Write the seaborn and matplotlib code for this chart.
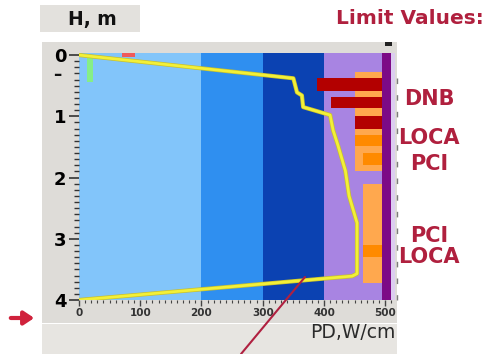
import matplotlib
matplotlib.use("Agg")
import matplotlib.pyplot as plt
import matplotlib.patheffects as pe
from matplotlib.patches import Rectangle, FancyArrowPatch
from matplotlib.lines import Line2D
import numpy as np
import pandas as pd
import seaborn as sns

# ---------------- data ----------------
band_edges = [0, 200, 300, 400, 495, 510]
band_colors = ["#82c5fa", "#2f8ff0", "#0b42b2", "#a884e2", "#7c0a86"]

profile_pd = [0, 350, 356, 364, 366, 410, 415, 423, 435, 441, 454, 454, 446, 0]
profile_h = [0.0, 0.38, 0.61, 0.66, 0.85, 0.98, 1.23, 1.48, 1.89, 2.30, 2.74, 3.57, 3.61, 4.0]

# DNB limit bars (dark red): left, right, top, bottom
dnb_left = [389, 411, 451]
dnb_right = [495, 495, 495]
dnb_top = [0.38, 0.69, 1.00]
dnb_bottom = [0.59, 0.87, 1.20]

# LOCA/PCI blocks (light orange)
lo_left = [451, 463]
lo_right = [495, 495]
lo_top = [0.28, 2.10]
lo_bottom = [1.89, 3.72]

# darker orange segments
do_left = [451, 463, 463]
do_right = [495, 495, 495]
do_top = [1.30, 1.60, 3.10]
do_bottom = [1.48, 1.80, 3.30]

y_ticks = [0, 1, 2, 3, 4]
x_ticks = [0, 100, 200, 300, 400, 500]
limit_labels = ["DNB", "LOCA", "PCI", "PCI", "LOCA"]
limit_label_y = [99, 138, 164, 236, 257]  # pixel rows in figure

W, H = 486, 354
sns.set_style("white")
plt.rcParams["font.family"] = ["DejaVu Sans"]

fig = plt.figure(figsize=(W / 100, H / 100), dpi=100)
fig.patch.set_facecolor("white")

def fx(px):
    return px / W

def fy(py):
    return 1 - py / H

# background panels
fig.patches.append(Rectangle((fx(42), fy(323)), fx(397) - fx(42), fy(42) - fy(323),
                             transform=fig.transFigure, facecolor="#dedcd8", edgecolor="none", zorder=-2))
fig.patches.append(Rectangle((fx(42), fy(354)), fx(397) - fx(42), fy(324) - fy(354),
                             transform=fig.transFigure, facecolor="#e7e5e1", edgecolor="none", zorder=-2))
fig.patches.append(Rectangle((fx(40), fy(32)), fx(140) - fx(40), fy(5) - fy(32),
                             transform=fig.transFigure, facecolor="#e3e1dd", edgecolor="none", zorder=-2))
fig.patches.append(Rectangle((fx(385), fy(46)), fx(7), fy(0) - fy(4),
                             transform=fig.transFigure, facecolor="#222222", edgecolor="none", zorder=2))

ax = fig.add_axes([fx(79), fy(300), fx(395) - fx(79), fy(53) - fy(300)])
ax.set_facecolor("#dccdf0")

for i in range(len(band_colors)):
    ax.axvspan(band_edges[i], band_edges[i + 1], color=band_colors[i], lw=0, zorder=0)

# limit blocks
lo_c = [(t + b) / 2 for t, b in zip(lo_top, lo_bottom)]
ax.barh(lo_c, [r - l for l, r in zip(lo_left, lo_right)], left=lo_left,
        height=[b - t for t, b in zip(lo_top, lo_bottom)], color="#ffa84e", lw=0, zorder=1)
do_c = [(t + b) / 2 for t, b in zip(do_top, do_bottom)]
ax.barh(do_c, [r - l for l, r in zip(do_left, do_right)], left=do_left,
        height=[b - t for t, b in zip(do_top, do_bottom)], color="#ff8a00", lw=0, zorder=2)
dnb_c = [(t + b) / 2 for t, b in zip(dnb_top, dnb_bottom)]
ax.barh(dnb_c, [r - l for l, r in zip(dnb_left, dnb_right)], left=dnb_left,
        height=[b - t for t, b in zip(dnb_top, dnb_bottom)], color="#b30000", lw=0, zorder=3)

# small markers near the origin
ax.barh([0.245], [10], left=[13], height=[0.39], color="#86ee86", lw=0, zorder=2)
ax.barh([0.0], [22], left=[70], height=[0.06], color="#f05a5a", lw=0, zorder=2)

df = pd.DataFrame({"PD": profile_pd, "H": profile_h})
sns.lineplot(data=df, x="PD", y="H", sort=False, estimator=None, color="#f2f038",
             lw=2.0, ax=ax, zorder=5,
             path_effects=[pe.Stroke(linewidth=3.0, foreground="#c9c02a"), pe.Normal()])

ax.set_xlim(0, 516)
ax.set_ylim(4.0, -0.033)
ax.set_xlabel("")
ax.set_ylabel("")
for s in ax.spines.values():
    s.set_visible(False)

ax.set_yticks(y_ticks)
ax.set_yticklabels([str(v) for v in y_ticks], fontsize=13, fontweight="bold", color="black")
ax.set_yticks(np.arange(0, 4.01, 0.1), minor=True)
ax.set_xticks(x_ticks)
ax.set_xticklabels([str(v) for v in x_ticks], fontsize=7.5, fontweight="bold", color="#333333")
ax.set_xticks(np.arange(0, 511, 10), minor=True)
ax.tick_params(axis="y", which="major", direction="out", length=7, width=1.2, color="#333333", pad=2, left=True)
ax.tick_params(axis="y", which="minor", direction="out", length=3.5, width=1.0, color="#333333", left=True)
ax.tick_params(axis="x", which="major", direction="out", length=4.5, width=1.0, color="#444444", pad=1.5, bottom=True)
ax.tick_params(axis="x", which="minor", direction="out", length=2.5, width=0.8, color="#444444", bottom=True)

# texts
fig.text(fx(92), fy(19), "H, m", ha="center", va="center", fontsize=13.5, fontweight="bold", color="#111111")
fig.text(fx(484), fy(18), "Limit Values:", ha="right", va="center", fontsize=14.5, fontweight="bold", color="#b0203e")
for lab, py in zip(limit_labels, limit_label_y):
    fig.text(fx(429), fy(py), lab, ha="center", va="center", fontsize=15, fontweight="bold", color="#b0203e")
fig.text(fx(396), fy(333), "PD,W/cm", ha="right", va="center", fontsize=13.5, color="#2a2a2a")
fig.text(fx(57), fy(75), "–", ha="center", va="center", fontsize=12, fontweight="bold", color="#111111")

# dashed marks on the right edge
fig.add_artist(Line2D([fx(396.5), fx(396.5)], [fy(78), fy(300)], transform=fig.transFigure,
                      color="#444444", lw=1.0, ls=(0, (4, 8)), alpha=0.7))

# red arrow at left
fig.add_artist(FancyArrowPatch((fx(8), fy(318)), (fx(37), fy(318)), transform=fig.transFigure,
                               arrowstyle="-|>,head_length=6,head_width=4", lw=3, color="#d0223c",
                               mutation_scale=1))
# diagonal pointer line
fig.add_artist(Line2D([fx(305), fx(241)], [fy(277), fy(354)], transform=fig.transFigure,
                      color="#b02040", lw=1.5))

fig.savefig("out.png", dpi=100)
